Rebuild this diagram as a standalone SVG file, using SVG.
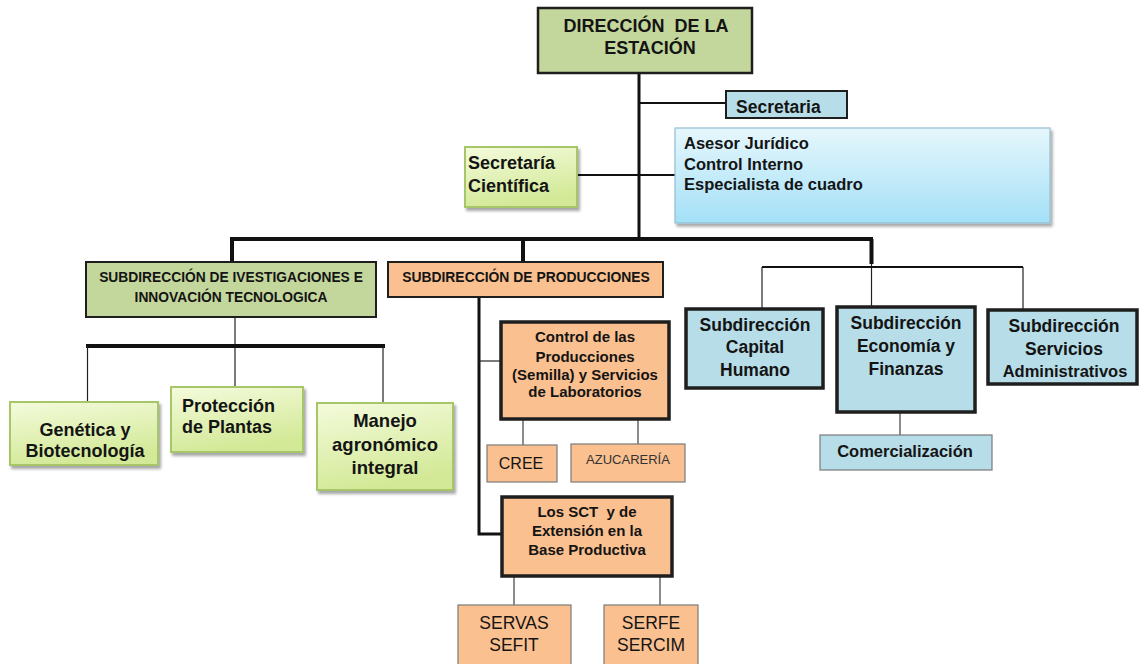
<svg xmlns="http://www.w3.org/2000/svg" width="1139" height="664" viewBox="0 0 1139 664">
<style>
.t{font-family:"Liberation Sans",Arial,sans-serif;font-weight:bold;fill:#141414}
.r{font-family:"Liberation Sans",Arial,sans-serif;font-weight:normal;fill:#141414}
.c{text-anchor:middle}
.pre{white-space:pre}
.olive{fill:#c3d69b;stroke:#1e1e1e;stroke-width:2}
.peach{fill:#fac090;stroke:#1e1e1e;stroke-width:2}
.peachT{fill:#fac090;stroke:#1e1e1e;stroke-width:3.5}
.peachL{fill:#fac090;stroke:#7a7a7a;stroke-width:1.2}
.blue{fill:#b7dde8;stroke:#1e1e1e;stroke-width:2}
.blueT{fill:#b7dde8;stroke:#1e1e1e;stroke-width:3.5}
.blueL{fill:#b7dde8;stroke:#7a7a7a;stroke-width:1.2}
.green{fill:url(#gg);stroke:#a7c66b;stroke-width:2;filter:url(#sh)}
.cyan{fill:url(#gc);stroke:#93bfd3;stroke-width:1.2;filter:url(#sh)}
.k4{stroke:#111;stroke-width:4;fill:none}
.k3{stroke:#111;stroke-width:3;fill:none}
.k2{stroke:#111;stroke-width:2;fill:none}
.k1{stroke:#222;stroke-width:1.2;fill:none}
.g1{stroke:#666;stroke-width:1.5;fill:none}
</style>
<defs>
<linearGradient id="gg" x1="0" y1="0" x2="0.3" y2="1">
<stop offset="0" stop-color="#f4fbdc"/>
<stop offset="1" stop-color="#d3e997"/>
</linearGradient>
<linearGradient id="gc" x1="0" y1="0" x2="0" y2="1">
<stop offset="0" stop-color="#e6f7fc"/>
<stop offset="1" stop-color="#a4e0f7"/>
</linearGradient>
<filter id="sh" x="-10%" y="-10%" width="125%" height="135%">
<feDropShadow dx="2" dy="3" stdDeviation="1.8" flood-color="#000" flood-opacity="0.35"/>
</filter>
</defs>
<rect width="1139" height="664" fill="#ffffff"/>

<g id="connectors">
<line class="k3" x1="639" y1="73" x2="639" y2="240"/>
<line class="k2" x1="639" y1="103" x2="726" y2="103"/>
<line class="k2" x1="577" y1="175" x2="675" y2="175"/>
<line class="k4" x1="230" y1="239" x2="873" y2="239"/>
<line class="k4" x1="232" y1="239" x2="232" y2="262"/>
<line class="k4" x1="523" y1="239" x2="523" y2="262"/>
<line class="k4" x1="871.5" y1="239" x2="871.5" y2="264"/>
<line class="k1" x1="871.5" y1="264" x2="871.5" y2="307"/>
<line class="k2" x1="762" y1="267" x2="1023" y2="267"/>
<line class="k1" x1="762" y1="267" x2="762" y2="309"/>
<line class="k1" x1="1023" y1="267" x2="1023" y2="310"/>
<line class="g1" x1="900" y1="412" x2="900" y2="435"/>
<line class="k1" x1="235" y1="317" x2="235" y2="387"/>
<line class="k4" x1="86" y1="346" x2="385" y2="346"/>
<line class="k1" x1="87.5" y1="346" x2="87.5" y2="402"/>
<line class="k1" x1="383" y1="346" x2="383" y2="403"/>
<polyline class="k3" points="479,297 479,534 502,534"/>
<line class="k1" x1="479" y1="361" x2="501" y2="361"/>
<line class="g1" x1="523" y1="419" x2="523" y2="445"/>
<line class="g1" x1="638" y1="419" x2="638" y2="444"/>
<line class="g1" x1="514" y1="576" x2="514" y2="605"/>
<line class="g1" x1="660" y1="576" x2="660" y2="605"/>
</g>

<g id="direccion">
<rect class="olive" x="538" y="8" width="214" height="65" style="stroke-width:2.5"/>
<text class="t c pre" x="646" y="32" font-size="18">DIRECCIÓN  DE LA</text>
<text class="t c" x="650" y="54" font-size="18">ESTACIÓN</text>
</g>

<g id="secretaria">
<rect class="blue" x="726" y="91" width="121" height="27"/>
<text class="t" x="736" y="113" font-size="17.5">Secretaria</text>
</g>

<g id="asesor">
<rect class="cyan" x="675" y="128" width="375" height="95"/>
<text class="t" x="684" y="149" font-size="16.5">Asesor Jurídico</text>
<text class="t" x="684" y="169.5" font-size="16.5">Control Interno</text>
<text class="t" x="684" y="190" font-size="16.5">Especialista de cuadro</text>
</g>

<g id="sec-cientifica">
<rect class="green" x="465" y="147" width="112" height="60"/>
<text class="t" x="468" y="169" font-size="18">Secretaría</text>
<text class="t" x="468" y="192" font-size="18">Científica</text>
</g>

<g id="sub-investigaciones">
<rect class="olive" x="86" y="262" width="290" height="55"/>
<text class="t c" x="231" y="281.5" font-size="13.8">SUBDIRECCIÓN DE IVESTIGACIONES E</text>
<text class="t c" x="231" y="301.5" font-size="13.8">INNOVACIÓN TECNOLOGICA</text>
</g>

<g id="genetica">
<rect class="green" x="10" y="402" width="148" height="63"/>
<text class="t c" x="85" y="436" font-size="18">Genética y</text>
<text class="t c" x="85" y="457" font-size="18">Biotecnología</text>
</g>

<g id="proteccion">
<rect class="green" x="171" y="387" width="132" height="65"/>
<text class="t" x="182" y="411.5" font-size="18">Protección</text>
<text class="t" x="182" y="433" font-size="18">de Plantas</text>
</g>

<g id="manejo">
<rect class="green" x="317" y="403" width="136" height="87"/>
<text class="t c" x="385" y="426.5" font-size="18.5">Manejo</text>
<text class="t c" x="385" y="451" font-size="18.5">agronómico</text>
<text class="t c" x="385" y="473.5" font-size="18.5">integral</text>
</g>

<g id="sub-producciones">
<rect class="peach" x="388" y="262" width="275" height="35"/>
<text class="t c" x="526" y="281.5" font-size="13.9">SUBDIRECCIÓN DE PRODUCCIONES</text>
</g>

<g id="control">
<rect class="peachT" x="501" y="322" width="168" height="97"/>
<text class="t c" x="585" y="342" font-size="15">Control de las</text>
<text class="t c" x="585" y="361.5" font-size="15">Producciones</text>
<text class="t c" x="585" y="379.5" font-size="15">(Semilla) y Servicios</text>
<text class="t c" x="585" y="397" font-size="15">de Laboratorios</text>
</g>

<g id="cree">
<rect class="peachL" x="487" y="445" width="70" height="37"/>
<text class="r c" x="521" y="468.5" font-size="16">CREE</text>
</g>

<g id="azucareria">
<rect class="peachL" x="571" y="444" width="114" height="38"/>
<text class="r c" x="628" y="463.5" font-size="13" style="fill:#333">AZUCARERÍA</text>
</g>

<g id="sct">
<rect class="peachT" x="502" y="497" width="170" height="79"/>
<text class="t c pre" x="587" y="516.5" font-size="15">Los SCT  y de</text>
<text class="t c" x="587" y="535.5" font-size="15">Extensión en la</text>
<text class="t c" x="587" y="555" font-size="15">Base Productiva</text>
</g>

<g id="servas">
<rect class="peachL" x="458" y="605" width="113" height="65"/>
<text class="r c" x="514" y="628.5" font-size="17.5">SERVAS</text>
<text class="r c" x="514" y="651" font-size="17.5">SEFIT</text>
</g>

<g id="serfe">
<rect class="peachL" x="604" y="605" width="94" height="65"/>
<text class="r c" x="651" y="628.5" font-size="17.5">SERFE</text>
<text class="r c" x="651" y="651" font-size="17.5">SERCIM</text>
</g>

<g id="capital-humano">
<rect class="blueT" x="686" y="309" width="137" height="79"/>
<text class="t c" x="755" y="330.5" font-size="17.5">Subdirección</text>
<text class="t c" x="755" y="353" font-size="17.5">Capital</text>
<text class="t c" x="755" y="376" font-size="17.5">Humano</text>
</g>

<g id="economia">
<rect class="blueT" x="837" y="307" width="138" height="105"/>
<text class="t c" x="906" y="329" font-size="17.5">Subdirección</text>
<text class="t c" x="906" y="352" font-size="17.5">Economía y</text>
<text class="t c" x="906" y="375" font-size="17.5">Finanzas</text>
</g>

<g id="servicios">
<rect class="blueT" x="988" y="310" width="149" height="74"/>
<text class="t c" x="1064" y="331.5" font-size="17.5">Subdirección</text>
<text class="t c" x="1064" y="355" font-size="17.5">Servicios</text>
<text class="t c" x="1065" y="376.5" font-size="16.5">Administrativos</text>
</g>

<g id="comercializacion">
<rect class="blueL" x="820" y="435" width="172" height="35"/>
<text class="t c" x="905" y="457" font-size="16.5">Comercialización</text>
</g>
</svg>
